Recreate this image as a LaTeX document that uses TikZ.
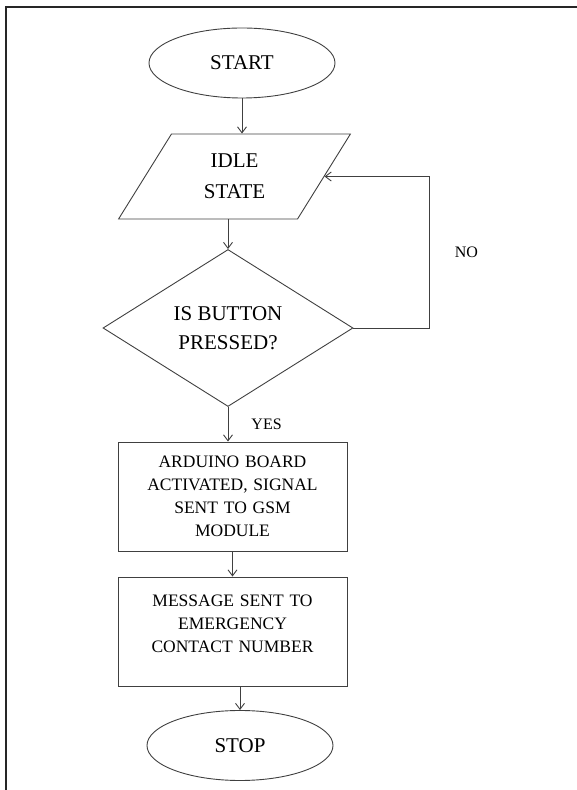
\documentclass[tikz,border=0pt]{standalone}
\usepackage{fontspec}
\setmainfont{Liberation Serif}
\usetikzlibrary{shapes.geometric,arrows.meta}

\begin{document}
\begin{tikzpicture}[
  x=1pt, y=1pt,
  every node/.style={align=center, inner sep=3pt},
  outline/.style={draw=black!75, line width=0.9pt},
  flow/.style={outline, -{Straight Barb[length=6pt,width=9pt]}},
  terminal/.style={outline, ellipse, minimum width=186pt, minimum height=70pt, font=\fontsize{21}{25}\selectfont},
  io/.style={outline, trapezium, trapezium left angle=61, trapezium right angle=119, trapezium stretches=true, minimum width=232pt, minimum height=85pt, font=\fontsize{21}{31}\selectfont},
  decision/.style={outline, diamond, aspect=1.6, minimum width=250pt, minimum height=157pt, font=\fontsize{21}{29}\selectfont},
  process/.style={outline, rectangle, minimum width=229pt, minimum height=109pt, text width=215pt, font=\fontsize{17.5}{23}\selectfont},
  label/.style={font=\fontsize{16}{19}\selectfont}
]
\useasboundingbox (0,0) rectangle (577,790);
% frame
\draw[line width=1.3pt, black!85] (6,0) -- (6,783) -- (577,783);

\node[terminal] (start) at (242,727) {START};
\node[io] (idle) [below of=start, node distance=113.5pt, xshift=-7.5pt] {IDLE\\STATE};
\node[decision] (pressed) [below of=idle, node distance=151.5pt, xshift=-6.5pt] {IS BUTTON\\PRESSED?};
\node[process] (activate) [below of=pressed, node distance=168.5pt, xshift=4.5pt] {ARDUINO BOARD\\ACTIVATED, SIGNAL\\SENT TO GSM\\MODULE};
\node[process] (message) [below of=activate, node distance=135pt] {MESSAGE SENT TO\\EMERGENCY\\CONTACT NUMBER\\[-7pt]\mbox{}};
\node[terminal] (stop) [below of=message, node distance=114pt, xshift=7.5pt] {STOP};

\draw[flow] (start.south) -- (start.south |- idle.north);
\draw[flow] (pressed.north |- idle.south) -- (pressed.north);
\draw[flow] (pressed.south) -- (pressed.south |- activate.north)
  node[label, midway, right=20pt] {YES};
\draw[flow] (activate.south) -- (message.north);
\draw[flow] (message.south -| stop) -- (stop.north);
\draw[flow] (pressed.east) -- ++(76,0) |- (idle.east)
  node[label, pos=0.25, right=22pt] {NO};
\end{tikzpicture}
\end{document}
